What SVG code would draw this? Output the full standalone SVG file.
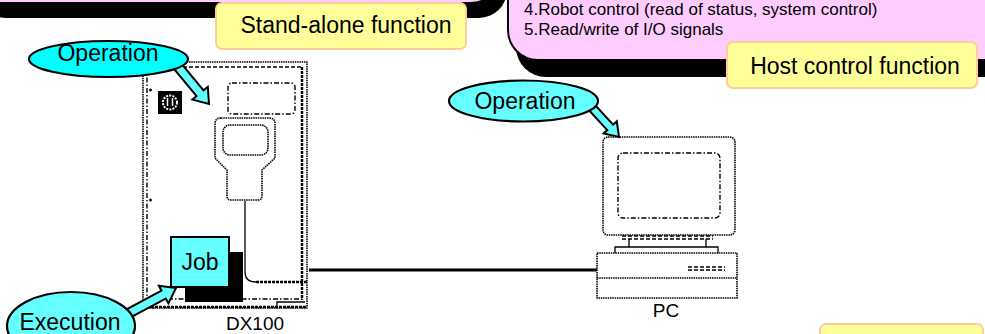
<svg xmlns="http://www.w3.org/2000/svg" width="985" height="334" viewBox="0 0 985 334">
  <style>
    .pink { fill: #FFCCFF; stroke: #000; stroke-width: 2; }
    .shadow { fill: #000; }
    .tag { fill: #FFFF99; stroke: #FFCC99; stroke-width: 2; }
    .txt { font-family: "Liberation Sans", Arial, sans-serif; fill: #000; }
    .big { font-size: 23px; }
    .mid { font-size: 19px; }
    .small { font-size: 17px; }
    .bubble { stroke: #000; stroke-width: 2.2; }
    .arrow { fill: #66FFFF; stroke: #000; stroke-width: 2; stroke-linejoin: miter; }
    .dot { fill: none; stroke: #000; stroke-width: 1.6; stroke-dasharray: 1.5 0.8; }
    .dash { fill: none; stroke: #000; stroke-width: 1.5; stroke-dasharray: 4 2; }
    .dashdot { fill: none; stroke: #000; stroke-width: 1.4; stroke-dasharray: 5 2 1.5 2; }
    .heavy { fill: none; stroke: #000; stroke-width: 2.4; stroke-dasharray: 3 1; }
    .wire { fill: none; stroke: #000; stroke-width: 1.3; }
  </style>

  <!-- stand-alone function panel (mostly above the frame) -->
  <g id="standalone-panel">
    <rect class="shadow" x="-22" y="-83" width="529" height="101" rx="28"/>
    <rect class="pink" x="-30" y="-100" width="529" height="103" rx="28"/>
  </g>

  <!-- host control function panel -->
  <g id="host-panel">
    <rect class="shadow" x="516" y="-83" width="520" height="160" rx="30"/>
    <rect class="pink" x="508" y="-100" width="520" height="160" rx="30"/>
    <text class="txt small" x="524" y="15">4.Robot control (read of status, system control)</text>
    <text class="txt small" x="524" y="35">5.Read/write of I/O signals</text>
  </g>

  <g id="standalone-tag">
    <rect class="tag" x="216" y="3" width="250" height="46" rx="6"/>
    <text class="txt big" x="346" y="33" text-anchor="middle">Stand-alone function</text>
  </g>

  <g id="host-tag">
    <rect class="tag" x="727" y="42" width="250" height="46" rx="6"/>
    <text class="txt big" x="855" y="74" text-anchor="middle">Host control function</text>
  </g>

  <g id="corner-tag">
    <rect class="tag" x="820" y="324" width="163" height="40" rx="6"/>
  </g>

  <!-- DX100 controller cabinet -->
  <g id="dx100">
    <rect class="dot" x="143" y="62" width="164" height="246"/>
    <line class="dash" x1="147" y1="67" x2="302" y2="67"/>
    <line class="dashdot" x1="147" y1="67" x2="147" y2="300"/>
    <line class="heavy" x1="302" y1="67" x2="302" y2="300"/>
    <line class="dashdot" x1="147" y1="299" x2="302" y2="299"/>
    <line class="heavy" x1="143" y1="307" x2="307" y2="307"/>
    <polyline class="wire" points="277,307 277,302 305,302"/>
    <path d="M149 90 h3 M150.5 88.5 v3 M149 200 h3 M150.5 198.5 v3" class="wire"/>
    <!-- power switch icon -->
    <rect x="158" y="91" width="24" height="23" fill="#000"/>
    <circle cx="170" cy="102.5" r="7" fill="none" stroke="#fff" stroke-width="2" stroke-dasharray="2 1.2"/>
    <path d="M167.5 98 v8 M172.5 98 v8" stroke="#fff" stroke-width="1.5"/>
    <!-- screen panel -->
    <rect class="dashdot" x="228" y="83" width="67" height="31" rx="4"/>
    <!-- programming pendant -->
    <path class="dot" d="M221 118 L269 118 Q275 118 275 124 L275 158 L262 170 L262 196 Q262 200 258 200 L231 200 Q227 200 227 196 L227 170 L215 158 L215 124 Q215 118 221 118 Z"/>
    <rect class="dot" x="223" y="125" width="45" height="30" rx="7"/>
    <!-- pendant cable -->
    <path class="wire" d="M245 201 L245 272 Q245 282 256 282"/>
    <line class="heavy" x1="256" y1="282" x2="307" y2="282"/>
    <text class="txt mid" x="255" y="330" text-anchor="middle">DX100</text>
  </g>

  <!-- PC -->
  <g id="pc">
    <rect class="dot" x="603" y="137" width="132" height="98" rx="5" stroke-width="2"/>
    <rect class="dashdot" x="618" y="153" width="102" height="65" rx="5"/>
    <line class="dash" x1="622" y1="236" x2="713" y2="236"/>
    <line class="dash" x1="622" y1="239" x2="713" y2="239"/>
    <line class="wire" x1="629" y1="239" x2="629" y2="247"/>
    <line class="wire" x1="706" y1="239" x2="706" y2="247"/>
    <polyline class="wire" points="615,253 615,247 718,247 718,253"/>
    <rect class="dot" x="597" y="253" width="140" height="45" stroke-width="2"/>
    <line class="dash" x1="688" y1="267" x2="725" y2="267"/>
    <line class="dash" x1="688" y1="270" x2="725" y2="270"/>
    <line class="dot" x1="597" y1="278" x2="737" y2="278" stroke-width="1"/>
    <text class="txt mid" x="666" y="317" text-anchor="middle">PC</text>
  </g>

  <!-- connectors -->
  <g id="connectors">
    <line x1="309" y1="270" x2="597" y2="270" stroke="#000" stroke-width="3"/>
    <polygon class="arrow" points="173.5,54.1 203.5,90.4 207.8,86.9 209,104 192.4,99.6 196.6,96.1 166.5,59.9"/>
    <polygon class="arrow" points="587.9,97.3 613.1,124.7 616.8,121.3 619,137 603.6,133.5 607.3,130.1 582.1,102.7"/>
    <polygon class="arrow" points="117.9,314 161.5,290.7 158.9,285.8 176,288 168.4,303.4 165.8,298.6 122.1,322"/>
  </g>

  <g id="job">
    <rect x="185" y="252" width="58" height="50" fill="#000"/>
    <rect x="171" y="237" width="58" height="50" fill="#66FFFF" stroke="#000" stroke-width="2"/>
    <text class="txt big" x="200" y="270" text-anchor="middle">Job</text>
  </g>

  <g id="operation-controller">
    <ellipse class="bubble" cx="108.5" cy="59" rx="79.5" ry="18" fill="#00FFFF"/>
    <text class="txt big" x="108" y="61" text-anchor="middle">Operation</text>
  </g>

  <g id="operation-pc">
    <ellipse class="bubble" cx="523.5" cy="101" rx="74.5" ry="20.5" fill="#66FFFF"/>
    <text class="txt big" x="525" y="109" text-anchor="middle">Operation</text>
  </g>

  <g id="execution">
    <ellipse class="bubble" cx="71" cy="326" rx="64" ry="34" fill="#66FFFF"/>
    <text class="txt big" x="70" y="330" text-anchor="middle">Execution</text>
  </g>
</svg>
